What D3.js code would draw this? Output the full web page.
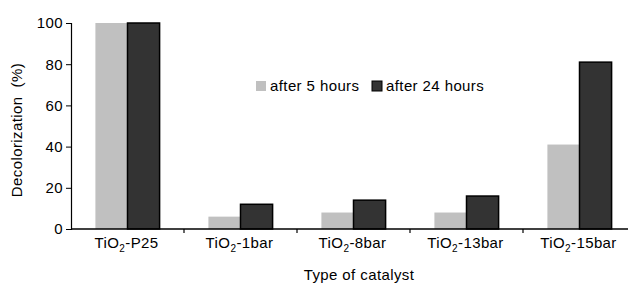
<!DOCTYPE html>
<html>
<head>
<meta charset="utf-8">
<script src="https://cdnjs.cloudflare.com/ajax/libs/d3/7.8.5/d3.min.js"></script>
<style>
body { margin: 0; background: #fff; }
text { font-family: "Liberation Sans", Arial, sans-serif; fill: #000; letter-spacing: 0.4px; }
</style>
</head>
<body>
<div id="chart"></div>
<script>
// catalysts and series
var catalysts = ["P25", "1bar", "8bar", "13bar", "15bar"];
var after5h = [100, 6, 8, 8, 41];
var after24h = [100, 12, 14, 16, 81];
var yTicks = [0, 20, 40, 60, 80, 100];
var seriesNames = ["after 5 hours", "after 24 hours"];

var width = 628, height = 285;
var x0 = 71, x1 = 636, yTop = 23, yBot = 229;

var svg = d3.select("#chart").append("svg")
    .attr("width", width)
    .attr("height", height);

var x = d3.scaleBand().domain(catalysts).range([x0, x1]);
var xs = d3.scaleBand().domain([0, 1]).range([0, x.bandwidth()]).paddingInner(0).paddingOuter(0.76);
var y = d3.scaleLinear().domain([0, 100]).range([yBot, yTop]);

var fills = ["#c0c0c0", "#333333"];
var data = catalysts.map(function(c, i) { return [after5h[i], after24h[i]]; });

var groups = svg.selectAll(".grp")
    .data(data)
    .enter().append("g")
    .attr("transform", function(d, i) { return "translate(" + x(catalysts[i]) + ",0)"; });

groups.selectAll("rect")
    .data(function(d) { return d; })
    .enter().append("rect")
    .attr("x", function(d, j) { return xs(j); })
    .attr("y", function(d) { return y(d); })
    .attr("width", xs.bandwidth())
    .attr("height", function(d) { return yBot - y(d); })
    .attr("fill", function(d, j) { return fills[j]; })
    .attr("stroke", function(d, j) { return j == 1 ? "#000" : "none"; })
    .attr("stroke-width", 1.5);

// y axis
var yAxis = svg.append("g")
    .attr("transform", "translate(" + x0 + ",0)")
    .call(d3.axisLeft(y).tickValues(yTicks).tickSize(5).tickPadding(3));
yAxis.select(".domain").attr("stroke", "#000").attr("stroke-width", 1.2);
yAxis.selectAll("text").style("font-size", "15px").style("font-family", "Liberation Sans, Arial, sans-serif");

// x axis line + ticks between categories
svg.append("line")
    .attr("x1", x0).attr("x2", width)
    .attr("y1", yBot).attr("y2", yBot)
    .attr("stroke", "#000").attr("stroke-width", 1.5);

svg.selectAll(".xtick")
    .data(catalysts.slice(1))
    .enter().append("line")
    .attr("x1", function(d) { return x(d); })
    .attr("x2", function(d) { return x(d); })
    .attr("y1", yBot).attr("y2", yBot + 4)
    .attr("stroke", "#000").attr("stroke-width", 1.2);

var xl = svg.selectAll(".xlab")
    .data(catalysts)
    .enter().append("text")
    .attr("x", function(d) { return x(d) + x.bandwidth() / 2 - 1; })
    .attr("y", 248)
    .attr("text-anchor", "middle")
    .style("font-size", "15px");
xl.append("tspan").text("TiO");
xl.append("tspan").text("2").attr("dy", 4).style("font-size", "10px");
xl.append("tspan").text(function(d) { return "-" + d; }).attr("dy", -4);

// axis titles
svg.append("text")
    .attr("x", 359).attr("y", 280)
    .attr("text-anchor", "middle")
    .style("font-size", "15px")
    .text("Type of catalyst");

svg.append("text")
    .attr("transform", "translate(22," + 130 + ") rotate(-90)")
    .attr("text-anchor", "middle")
    .style("font-size", "15px")
    .attr("xml:space", "preserve")
    .text("Decolorization  (%)");

// legend
var legX = [256, 372];
for (var i = 0; i < 2; i++) {
    svg.append("rect")
        .attr("x", legX[i]).attr("y", 81)
        .attr("width", 10).attr("height", 10)
        .attr("fill", fills[i])
        .attr("stroke", i == 1 ? "#000" : "none");
    svg.append("text")
        .attr("x", legX[i] + 14).attr("y", 91)
        .style("font-size", "15px")
        .text(seriesNames[i]);
}
</script>
</body>
</html>
